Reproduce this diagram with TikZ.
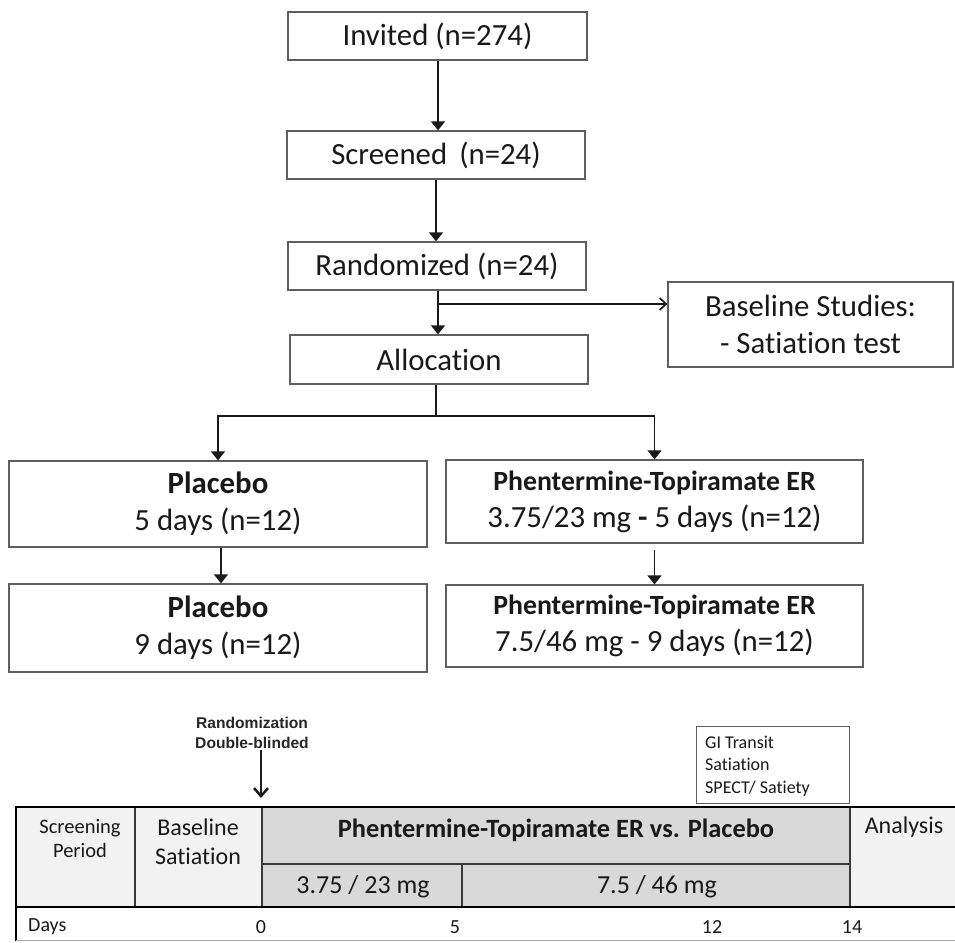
\documentclass[tikz,border=0pt]{standalone}
\usepackage{fontspec}
\setmainfont{Carlito}[Ligatures={NoCommon}]
\newfontfamily\arialfont{Liberation Sans}
\usetikzlibrary{arrows.meta}
\definecolor{bordergray}{HTML}{5E5E5E}
\definecolor{arrowblack}{HTML}{1A1A1A}
\definecolor{lightfill}{HTML}{F2F2F2}
\definecolor{midfill}{HTML}{D9D9D9}
\definecolor{linegray}{HTML}{3A3A3A}
\begin{document}
\begin{tikzpicture}[x=1pt,y=-1pt,
  fbox/.style={draw=bordergray, line width=1.3pt, inner sep=0pt, align=center, fill=white,
    text=black!90, font=\fontsize{30.8}{37}\selectfont},
  arr/.style={draw=arrowblack, line width=1.6pt, -{Triangle[width=14pt,length=9pt]}},
  openarr/.style={draw=arrowblack, line width=1.6pt, -{Straight Barb[width=12pt,length=6.5pt]}},
  plain/.style={draw=arrowblack, line width=1.6pt},
  tabtxt/.style={inner sep=0pt, align=center, text=black!90},
  sepline/.style={draw=linegray, line width=1.6pt}
]
\useasboundingbox (0,0) rectangle (955,942);
\fill[white] (0,0) rectangle (955,942);

% ---------------- flowchart ----------------
\node[fbox, minimum width=299pt, minimum height=48pt] (inv) at (437.5,36) {Invited (n=274)};
\node[fbox, minimum width=298pt, minimum height=48pt] (scr) at (436,155) {Screened \,(n=24)};
\node[fbox, minimum width=298pt, minimum height=48pt] (rnd) at (437,266) {Randomized (n=24)};
\node[fbox, minimum width=298pt, minimum height=49pt] (alc) at (439,359.5) {Allocation};
\node[fbox, minimum width=285pt, minimum height=85pt] (bas) at (810.5,324.5) {Baseline Studies:\\- Satiation test};
\node[fbox, minimum width=418pt, minimum height=86pt] (p1) at (218,504) {\textbf{Placebo}\\5 days (n=12)};
\node[fbox, minimum width=418pt, minimum height=88pt] (p2) at (218,628) {\textbf{Placebo}\\9 days (n=12)};
\node[fbox, minimum width=417pt, minimum height=83pt] (t1) at (654.5,501.5)
  {{\fontsize{27.8}{37}\selectfont\bfseries Phentermine-Topiramate ER}\\3.75/23 mg \textbf{-} 5 days (n=12)};
\node[fbox, minimum width=417pt, minimum height=82pt] (t2) at (654.5,626)
  {{\fontsize{27.8}{37}\selectfont\bfseries Phentermine-Topiramate ER}\\7.5/46 mg - 9 days (n=12)};

\draw[arr] (inv.south -| 438,0) -- (scr.north -| 438,0);
\draw[arr] (scr.south -| 436,0) -- (rnd.north -| 436,0);
\draw[arr] (rnd.south -| 438,0) -- (alc.north -| 438,0);
\coordinate (br) at (438,304);
\draw[openarr] (br) -- (br -| bas.west);
\coordinate (sp) at (436,416);
\draw[plain] (alc.south -| sp) -- (sp);
\draw[arr] (sp) -| (p1.north);
\draw[arr] (sp) -| (t1.north);
\draw[arr] (p1.south -| 221,0) -- (p2.north -| 221,0);
\draw[arr, shorten <=6pt] (t1.south) -- (t2.north);

% ---------------- timeline table ----------------
\fill[lightfill] (16,807) rectangle (262,907);
\fill[lightfill] (850,807) rectangle (955,907);
\fill[midfill] (262,807) rectangle (850,907);
\draw[draw=linegray, line width=1.2pt] (262,864) -- (850,864);
\draw[sepline] (462,864) -- (462,907);
\draw[sepline] (135,807) -- (135,907);
\draw[sepline] (262,807) -- (262,907);
\draw[sepline] (850,807) -- (850,907);
\draw[draw=black, line width=2.2pt] (16,807) -- (955,807);
\draw[draw=black, line width=2pt] (16,907) -- (955,907);
\draw[draw=black, line width=2.2pt] (16,806) -- (16,941);
\draw[draw=black!35, line width=1pt] (16,940.5) -- (955,940.5);

\node[tabtxt, font=\fontsize{20.5}{24}\selectfont] (scrn) at (80,839) {Screening\\Period};
\node[tabtxt, font=\fontsize{24}{29}\selectfont] (bsat) at (198,841.5) {Baseline\\Satiation};
\node[tabtxt, font=\fontsize{26.4}{30}\selectfont\bfseries] (pthead) at (556,830) {Phentermine-Topiramate ER vs. Placebo};
\node[tabtxt, font=\fontsize{26}{30}\selectfont] (dose1) at (363,887) {3.75 / 23 mg};
\node[tabtxt, font=\fontsize{26}{30}\selectfont] (dose2) at (657,887) {7.5 / 46 mg};
\node[tabtxt, font=\fontsize{24}{29}\selectfont] (anal) at (904,827) {Analysis};

\node[tabtxt, anchor=west, font=\fontsize{20}{24}\selectfont] (days) at (28,927) {Days};
\node[tabtxt, font=\fontsize{20}{24}\selectfont] (d0) at (261,927) {0};
\node[tabtxt, font=\fontsize{20}{24}\selectfont] (d5) at (455,927) {5};
\node[tabtxt, font=\fontsize{20}{24}\selectfont] (d12) at (712,927) {12};
\node[tabtxt, font=\fontsize{20}{24}\selectfont] (d14) at (852,927) {14};

% GI box
\node[draw=bordergray, line width=1pt, fill=white, minimum width=153pt, minimum height=77pt, inner sep=0pt] (gi) at (772.5,764.5) {};
\node[tabtxt, anchor=west, align=left, font=\fontsize{18}{22.5}\selectfont] (gitext) at (705,766) {GI Transit\\Satiation\\SPECT/ Satiety};

% Randomization marker
\node[tabtxt, font=\arialfont\bfseries\fontsize{15.6}{20}\selectfont, text=black!85] (randtxt) at (252,733) {Randomization\\Double-blinded};
\coordinate (r0) at (261,750);
\coordinate (r1) at (261,798);
\draw[draw=arrowblack, line width=2.5pt, -{Straight Barb[width=14pt,length=8pt]}] (r0) -- (r1);
\end{tikzpicture}
\end{document}
